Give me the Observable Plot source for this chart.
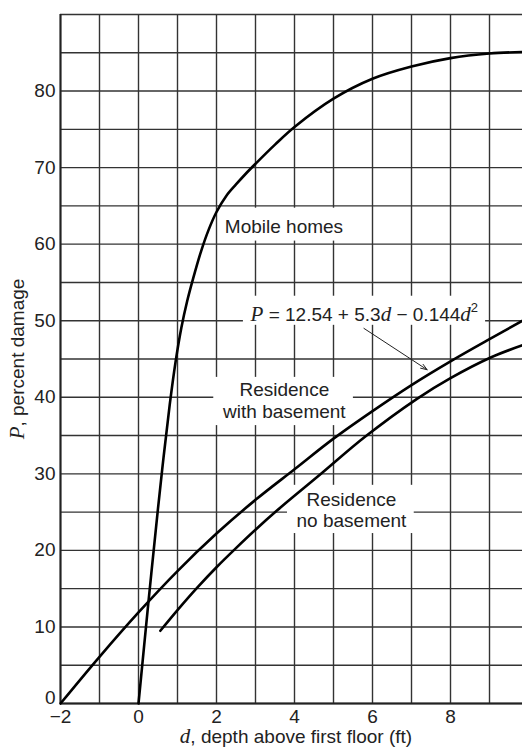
<!DOCTYPE html>
<html><head><meta charset="utf-8">
<script src="https://cdn.jsdelivr.net/npm/d3@7"></script>
<script src="https://cdn.jsdelivr.net/npm/@observablehq/plot@0.6"></script>
<style>body{margin:0;background:#fff}</style>
</head><body><div id="chart"></div>
<script>
// Grid and tick values
const xGrid = [-2,-1,0,1,2,3,4,5,6,7,8,9];
const yGrid = [0,5,10,15,20,25,30,35,40,45,50,55,60,65,70,75,80,85,90];
const xTicks = [-2,0,2,4,6,8];
const yTicks = [0,10,20,30,40,50,60,70,80];

// Mobile homes curve (d, P)
const mobileD = [0,0.25,0.5,0.65,0.8,0.95,1.1,1.25,1.4,1.6,1.8,2.0,2.25,2.5,2.75,3,3.5,4,5,6,7,8,9,9.85];
const mobileP = [0,13,25.5,32.5,39,44.6,49.1,52.6,55.5,59,61.9,64.2,66.3,67.8,69.2,70.5,73.0,75.3,79,81.6,83.2,84.3,84.9,85.1];

// Residence with basement
const withD = [-2,-1,0,1,2,3,4,5,6,7,8,9,9.85];
const withP = [0,6.1,11.9,17.3,22.2,26.6,30.6,34.6,38.2,41.6,44.7,47.6,50];

// Residence no basement
const noD = [0.56,1,1.5,2,2.5,3,3.55,4.68,5.8,7.14,8,9.03,9.85];
const noP = [9.5,12.2,15.1,17.8,20.3,22.7,25.2,30,34.8,39.8,42.5,45.2,46.8];

// Labels
const labelText = ["Mobile homes", "Residence\nwith basement", "Residence\nno basement"];
const labelD = [3.73, 3.74, 5.46];
const labelP = [62.4, 39.6, 25.35];
const boxD1 = [2.1, 1.93, 3.82];
const boxD2 = [5.4, 5.51, 7.07];
const boxP1 = [60.4, 36.3, 22.2];
const boxP2 = [64.7, 42.6, 28.5];

const formulaText = "P = 12.54 + 5.3d − 0.144d2";
const formulaD = [5.79];
const formulaP = [50.8];
const formulaBox = {x1: 2.69, x2: 8.9, y1: 49.4, y2: 53.2};
const arrowFrom = [5.78, 49.0];
const arrowTo = [7.40, 43.6];

const zip = (a, b) => a.map((v, i) => ({d: v, p: b[i]}));
const labels = labelText.map((t, i) => ({text: t, d: labelD[i], p: labelP[i]}));
const boxes = labelText.map((t, i) => ({x1: boxD1[i], x2: boxD2[i], y1: boxP1[i], y2: boxP2[i]})).concat([formulaBox]);

const gridStyle = {stroke: "#333", strokeWidth: 1.4};
const curveStyle = {x: "d", y: "p", stroke: "#000", strokeWidth: 2.6, curve: "catmull-rom"};
const FS = 19;

const plot = Plot.plot({
  width: 522, height: 749,
  marginLeft: 60, marginRight: 0, marginTop: 14, marginBottom: 46,
  style: {fontFamily: "'Liberation Sans', Arial, sans-serif", fontSize: FS + "px", color: "#222", background: "white"},
  x: {domain: [-2, 9.846], ticks: xTicks, tickSize: 0, tickPadding: 6, label: null},
  y: {domain: [0, 90], ticks: yTicks.filter(v => v !== 0), tickSize: 0, tickPadding: 5, label: null},
  marks: [
    Plot.ruleX(xGrid, gridStyle),
    Plot.ruleY(yGrid, gridStyle),
    Plot.rect(boxes, {x1: "x1", x2: "x2", y1: "y1", y2: "y2", fill: "white"}),
    Plot.ruleX([-2], {stroke: "#222", strokeWidth: 2}),
    Plot.ruleY([0], {stroke: "#222", strokeWidth: 2}),
    Plot.line(zip(mobileD, mobileP), curveStyle),
    Plot.line(zip(withD, withP), curveStyle),
    Plot.line(zip(noD, noP), curveStyle),
    Plot.arrow([{x1: arrowFrom[0], y1: arrowFrom[1], x2: arrowTo[0], y2: arrowTo[1]}],
      {x1: "x1", y1: "y1", x2: "x2", y2: "y2", stroke: "#222", strokeWidth: 1, headLength: 10, headAngle: 40}),
    Plot.text(labels, {x: "d", y: "p", text: "text", fontSize: FS, lineHeight: 1.15, fill: "#222"}),
    Plot.text([{d: formulaD[0], p: formulaP[0]}], {x: "d", y: "p", text: () => formulaText, fontSize: FS, fill: "#222"}),
    // the zero tick label sits just above the bottom axis, as in the original
    Plot.text([{d: xTicks[0], p: yTicks[0]}], {x: "d", y: "p", text: d => String(d.p), dx: -5, textAnchor: "end", lineAnchor: "bottom", fontSize: FS, fill: "#222"})
  ]
});

document.getElementById("chart").appendChild(plot);

const svg = d3.select(plot.tagName.toLowerCase() === "svg" ? plot : plot.querySelector("svg"));
const serif = "'Liberation Serif', 'Times New Roman', serif";

// Rebuild the formula with italic variables and a superscript
svg.selectAll("text").filter(function() { return this.textContent === formulaText; }).each(function() {
  const t = d3.select(this);
  t.text(null);
  t.append("tspan").attr("font-family", serif).attr("font-style", "italic").attr("font-size", 21).text("P");
  t.append("tspan").text(" = 12.54 + 5.3");
  t.append("tspan").attr("font-family", serif).attr("font-style", "italic").attr("font-size", 21).text("d");
  t.append("tspan").text(" − 0.144");
  t.append("tspan").attr("font-family", serif).attr("font-style", "italic").attr("font-size", 21).text("d");
  t.append("tspan").attr("font-size", 13).attr("dy", "-0.7em").text("2");
});

// Axis labels
const xl = svg.append("text").attr("x", 296).attr("y", 743).attr("text-anchor", "middle")
  .attr("fill", "#222").attr("font-size", FS);
xl.append("tspan").attr("font-family", serif).attr("font-style", "italic").attr("font-size", 21).text("d");
xl.append("tspan").text(", depth above first floor (ft)");

const yl = svg.append("text").attr("transform", "translate(24,359) rotate(-90)").attr("text-anchor", "middle")
  .attr("fill", "#222").attr("font-size", FS);
yl.append("tspan").attr("font-family", serif).attr("font-style", "italic").attr("font-size", 21).text("P");
yl.append("tspan").text(", percent damage");
</script>
</body></html>
